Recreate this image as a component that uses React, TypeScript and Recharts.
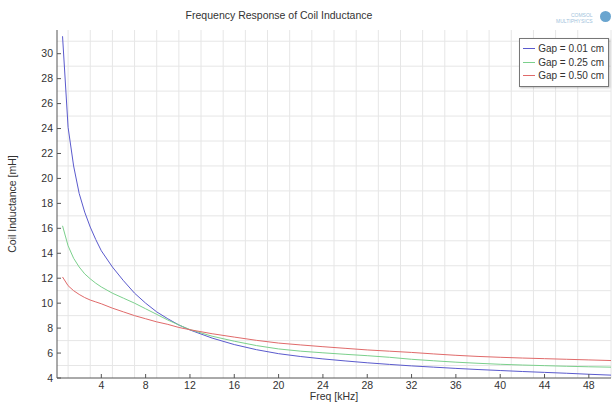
import React from "react";
import {
  LineChart,
  Line,
  XAxis,
  YAxis,
  CartesianGrid,
  Label,
} from "recharts";

// frequency samples [kHz]
const freq = [
  0.5, 1, 1.5, 2, 2.5, 3, 3.5, 4, 5, 6, 7, 8, 9, 10, 11, 12, 14, 16, 18, 20,
  22, 24, 26, 28, 30, 32, 34, 36, 38, 40, 42, 44, 46, 48, 50,
];

// inductance [mH] per gap
const gap001 = [
  31.4, 24.1, 21.0, 18.8, 17.3, 16.1, 15.1, 14.2, 12.9, 11.8, 10.8, 10.0, 9.3,
  8.75, 8.25, 7.85, 7.2, 6.68, 6.27, 5.95, 5.72, 5.53, 5.37, 5.22, 5.09, 4.97,
  4.87, 4.77, 4.68, 4.6, 4.52, 4.45, 4.38, 4.3, 4.23,
];
const gap025 = [
  16.2, 14.6, 13.6, 12.9, 12.35, 11.95, 11.6, 11.3, 10.8, 10.4, 10.0, 9.55, 9.1,
  8.65, 8.25, 7.88, 7.35, 6.95, 6.6, 6.33, 6.15, 6.02, 5.9, 5.79, 5.66, 5.5,
  5.38, 5.27, 5.18, 5.1, 5.04, 4.99, 4.94, 4.9, 4.87,
];
const gap050 = [
  12.1, 11.4, 11.0, 10.7, 10.45, 10.25, 10.1, 9.95, 9.6, 9.3, 9.0, 8.75, 8.5,
  8.3, 8.05, 7.87, 7.55, 7.28, 7.02, 6.8, 6.65, 6.51, 6.38, 6.25, 6.15, 6.05,
  5.93, 5.82, 5.73, 5.66, 5.6, 5.55, 5.5, 5.45, 5.4,
];

const xTicks = [4, 8, 12, 16, 20, 24, 28, 32, 36, 40, 44, 48];
const yTicks = [4, 6, 8, 10, 12, 14, 16, 18, 20, 22, 24, 26, 28, 30];
const xGrid = Array.from({ length: 51 }, (_, i) => i);
const yGrid = Array.from({ length: 28 }, (_, i) => i + 4);

const seriesNames = ["Gap = 0.01 cm", "Gap = 0.25 cm", "Gap = 0.50 cm"];
const colors = ["#5a5acd", "#7bd08c", "#e06a6a"];

const data = freq.map((f, i) => ({
  f,
  a: gap001[i],
  b: gap025[i],
  c: gap050[i],
}));

const font = "'Liberation Sans', Arial, sans-serif";

const LegendBox = () => (
  <div
    style={{
      position: "absolute",
      top: 38,
      left: 519,
      width: 81,
      border: "1px solid #777",
      background: "#fff",
      padding: "3px 4px 3px 3px",
      fontFamily: font,
      fontSize: 10,
      color: "#333",
      boxShadow: "1px 1px 2px rgba(0,0,0,0.25)",
      whiteSpace: "nowrap",
    }}
  >
    {seriesNames.map((n, i) => (
      <div key={n} style={{ display: "flex", alignItems: "center", height: 13.5 }}>
        <span
          style={{
            display: "inline-block",
            width: 14,
            height: 1,
            background: colors[i],
            marginRight: 3,
          }}
        />
        {n}
      </div>
    ))}
  </div>
);

const App = () => {
  return (
    <div
      style={{
        position: "relative",
        width: 613,
        height: 405,
        background: "#fff",
        overflow: "hidden",
      }}
    >
      <style>{`html,body{margin:0;overflow:hidden}`}</style>
      <div
        style={{
          position: "absolute",
          top: 9,
          left: 0,
          width: 558,
          textAlign: "center",
          fontFamily: font,
          fontSize: 10.5,
          color: "#333",
        }}
      >
        Frequency Response of Coil Inductance
      </div>
      <div
        style={{
          position: "absolute",
          top: 12,
          left: 556,
          fontFamily: font,
          fontSize: 5,
          lineHeight: "6px",
          color: "#9fc3dc",
          textAlign: "right",
        }}
      >
        COMSOL
        <br />
        MULTIPHYSICS
      </div>
      <div
        style={{
          position: "absolute",
          top: 11,
          left: 600,
          width: 11,
          height: 11,
          borderRadius: 6,
          background: "#6aa5cf",
        }}
      />
      <LineChart
        width={613}
        height={405}
        data={data}
        margin={{ top: 30, right: 2, bottom: 0, left: 0 }}
      >
        <CartesianGrid
          stroke="#e6e6e6"
          verticalValues={xGrid}
          horizontalValues={yGrid}
        />
        <XAxis
          dataKey="f"
          type="number"
          domain={[0, 50]}
          ticks={xTicks}
          height={27}
          stroke="#555"
          tickSize={-4}
          tickMargin={8}
          tick={{ fill: "#333", fontSize: 10.5, fontFamily: font }}
          allowDataOverflow
        >
          <Label
            value="Freq [kHz]"
            position="insideBottom"
            offset={5}
            style={{ fill: "#333", fontSize: 10.5, fontFamily: font }}
          />
        </XAxis>
        <XAxis
          xAxisId="top"
          orientation="top"
          dataKey="f"
          type="number"
          domain={[0, 50]}
          ticks={xTicks}
          height={0}
          stroke="#555"
          tickSize={-4}
          tick={false}
        />
        <YAxis
          type="number"
          domain={[4, 31.9]}
          ticks={yTicks}
          width={57}
          stroke="#555"
          tickSize={-4}
          tickMargin={8}
          tick={{ fill: "#333", fontSize: 10.5, fontFamily: font }}
          allowDataOverflow
        >
          <Label
            value="Coil Inductance [mH]"
            angle={-90}
            position="insideLeft"
            offset={12}
            style={{ fill: "#333", fontSize: 10.5, fontFamily: font, textAnchor: "middle" }}
          />
        </YAxis>
        <YAxis
          yAxisId="right"
          orientation="right"
          domain={[4, 31.9]}
          width={0}
          stroke="#555"
          tick={false}
        />
        <Line dataKey="a" stroke={colors[0]} strokeWidth={1} dot={false} isAnimationActive={false} />
        <Line dataKey="b" stroke={colors[1]} strokeWidth={1} dot={false} isAnimationActive={false} />
        <Line dataKey="c" stroke={colors[2]} strokeWidth={1} dot={false} isAnimationActive={false} />
      </LineChart>
      <LegendBox />
    </div>
  );
};

export default App;
